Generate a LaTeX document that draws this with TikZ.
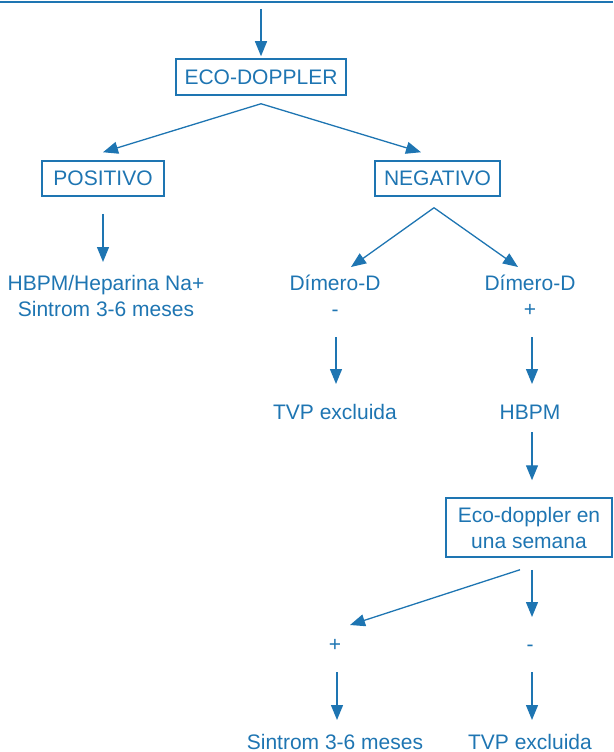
\documentclass[tikz,border=0pt]{standalone}
\usepackage{fontspec}
\setmainfont{Liberation Sans}
\usetikzlibrary{arrows.meta}
\definecolor{flowblue}{RGB}{30,117,178}
\begin{document}
\begin{tikzpicture}[x=1pt,y=-1pt,
  every node/.style={text=flowblue, font=\fontsize{21}{26}\selectfont},
  box/.style={draw=flowblue, line width=1.5pt, inner sep=0pt},
  lbl/.style={inner sep=0pt, anchor=base},
  flow/.style={draw=flowblue, line width=1.3pt, -{Triangle[length=15pt,width=12pt]}},
]
\useasboundingbox (0,0) rectangle (613,752);

% rule across the top
\draw[flowblue, line width=1.8pt] (0,2.2) -- (613,2.2);

% first test
\coordinate (entry) at (261,9);
\node[box, minimum width=170pt, minimum height=36pt] (eco) at (261,77) {ECO-DOPPLER};
\draw[flow] (entry) -- ([yshift=2pt]eco.north);

% result of the first test
\coordinate (ecosplit) at ([yshift=-8pt]eco.south);
\node[box, minimum width=122pt, minimum height=35pt] (pos) at (103,178.5) {POSITIVO};
\node[box, minimum width=125pt, minimum height=35pt] (neg) at (437.5,178.5) {NEGATIVO};
\draw[flow] (ecosplit) -- ([yshift=8pt]pos.north);
\draw[flow] (ecosplit) -- ([xshift=-16.5pt,yshift=8pt]neg.north);

% positive branch
\node[inner sep=0pt, anchor=north, align=center] (hep) at (106,275.5) {HBPM/Heparina Na+\\Sintrom 3-6 meses};
\draw[flow, shorten <=17pt, shorten >=13.5pt] (pos.south) -- (pos.south |- hep.north);

% negative branch: D-dimer
\coordinate (negsplit) at ([xshift=-3.5pt,yshift=-11pt]neg.south);
\node[lbl] (dimA) at (335,290.5) {Dímero-D};
\node[lbl] (sgnA) at (335,316.5) {-};
\node[lbl] (dimB) at (530,290.5) {Dímero-D};
\node[lbl] (sgnB) at (530,316.5) {+};
\draw[flow] (negsplit) -- ([xshift=16pt,yshift=23.5pt]dimA.base);
\draw[flow] (negsplit) -- ([xshift=-12pt,yshift=23.5pt]dimB.base);

\node[lbl] (tvpA) at (335,419.5) {TVP excluida};
\node[lbl] (hbpm) at (530,419.5) {HBPM};
\draw[flow, shorten <=20.5pt, shorten >=35.5pt] ([xshift=1pt]sgnA.base) -- ([xshift=1pt]tvpA.base);
\draw[flow, shorten <=20.5pt, shorten >=35.5pt] ([xshift=2pt]sgnB.base) -- ([xshift=2pt]hbpm.base);

% repeat test after one week
\node[box, minimum width=166pt, minimum height=59pt, align=center] (eco2) at (529,527.5) {Eco-doppler en\\una semana};
\coordinate (hbpmdown) at ([xshift=2pt]hbpm.base);
\draw[flow, shorten <=12.5pt, shorten >=17pt] (hbpmdown) -- (hbpmdown |- eco2.north);

\node[lbl] (plus) at (335,651) {+};
\node[lbl] (minus) at (530,651) {-};
\draw[flow] ([xshift=-9pt,yshift=-12pt]eco2.south) -- ([xshift=15pt,yshift=26pt]plus.base);
\draw[flow, shorten >=34pt] ([xshift=3pt,yshift=-12pt]eco2.south) -- ([xshift=2pt]minus.base);

\node[lbl] (sint) at (335,749) {Sintrom 3-6 meses};
\node[lbl] (tvpB) at (530,749) {TVP excluida};
\draw[flow, shorten <=21pt, shorten >=29pt] ([xshift=2pt]plus.base) -- ([xshift=2pt]sint.base);
\draw[flow, shorten <=21pt, shorten >=29pt] ([xshift=2pt]minus.base) -- ([xshift=2pt]tvpB.base);
\end{tikzpicture}
\end{document}
